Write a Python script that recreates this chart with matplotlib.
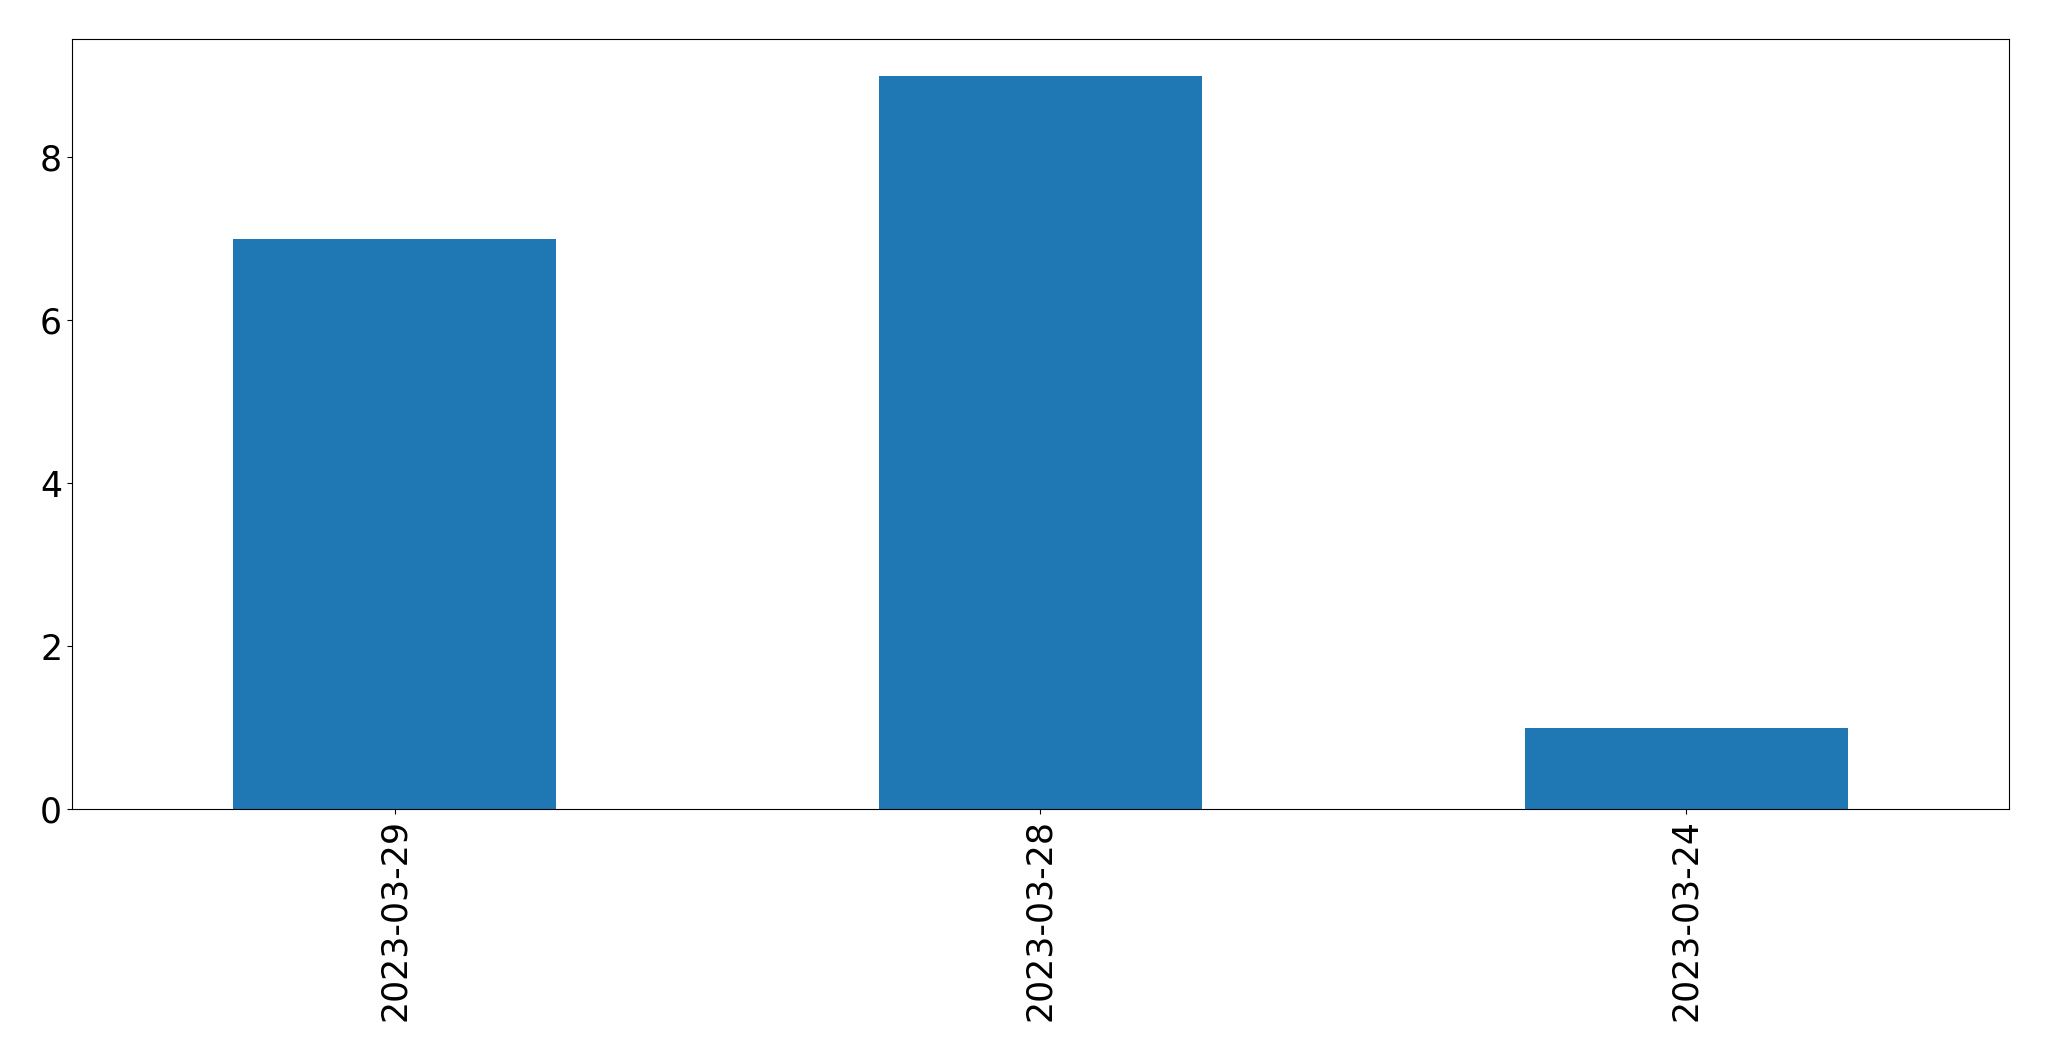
import pandas as pd
import matplotlib
matplotlib.use("Agg")
import matplotlib.pyplot as plt

dates = ["2023-03-29", "2023-03-28", "2023-03-24"]
counts = [7, 9, 1]

s = pd.Series(counts, index=dates)

fig = plt.figure(figsize=(20.49, 10.61), dpi=100)
ax = fig.add_subplot(111)
s.plot(kind="bar", ax=ax, fontsize=25, color="#1f77b4")
plt.subplots_adjust(left=0.0351, right=0.9805, top=0.9632, bottom=0.2375)
fig.savefig("out.png", dpi=100)
